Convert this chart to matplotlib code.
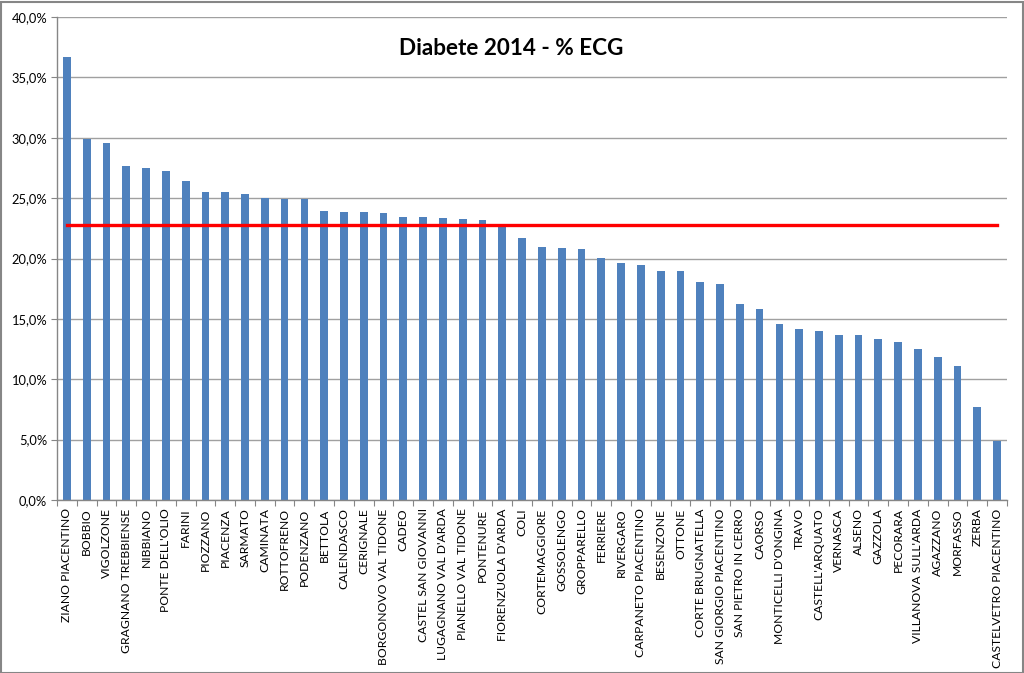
import matplotlib
matplotlib.use("Agg")
import matplotlib.pyplot as plt
from matplotlib.ticker import FuncFormatter, FixedLocator
from matplotlib.patches import Rectangle

comuni = ["ZIANO PIACENTINO", "BOBBIO", "VIGOLZONE", "GRAGNANO TREBBIENSE", "NIBBIANO",
          "PONTE DELL'OLIO", "FARINI", "PIOZZANO", "PIACENZA", "SARMATO", "CAMINATA",
          "ROTTOFRENO", "PODENZANO", "BETTOLA", "CALENDASCO", "CERIGNALE",
          "BORGONOVO VAL TIDONE", "CADEO", "CASTEL SAN GIOVANNI", "LUGAGNANO VAL D'ARDA",
          "PIANELLO VAL TIDONE", "PONTENURE", "FIORENZUOLA D'ARDA", "COLI", "CORTEMAGGIORE",
          "GOSSOLENGO", "GROPPARELLO", "FERRIERE", "RIVERGARO", "CARPANETO PIACENTINO",
          "BESENZONE", "OTTONE", "CORTE BRUGNATELLA", "SAN GIORGIO PIACENTINO",
          "SAN PIETRO IN CERRO", "CAORSO", "MONTICELLI D'ONGINA", "TRAVO", "CASTELL'ARQUATO",
          "VERNASCA", "ALSENO", "GAZZOLA", "PECORARA", "VILLANOVA SULL'ARDA", "AGAZZANO",
          "MORFASSO", "ZERBA", "CASTELVETRO PIACENTINO"]

valori = [36.66, 29.90, 29.57, 27.69, 27.47, 27.25, 26.42, 25.48, 25.48, 25.34, 25.04,
          24.96, 24.96, 23.96, 23.85, 23.85, 23.74, 23.41, 23.41, 23.35, 23.24, 23.19,
          22.80, 21.67, 20.95, 20.90, 20.79, 20.04, 19.63, 19.46, 18.96, 18.96, 18.03,
          17.86, 16.20, 15.85, 14.58, 14.13, 14.02, 13.69, 13.69, 13.33, 13.06, 12.50,
          11.84, 11.12, 7.67, 4.89]

media = 22.77
titolo = "Diabete 2014 - % ECG"
y_ticks = [0, 5, 10, 15, 20, 25, 30, 35, 40]

plt.rcParams['font.family'] = ['Lato', 'DejaVu Sans']

fig = plt.figure(figsize=(10.24, 6.73), dpi=100)
ax = fig.add_axes([57/1024, (673-500)/673, (1007-57)/1024, (500-17)/673])

x = list(range(len(comuni)))
ax.bar(x, valori, width=0.39, color='#4F81BD', zorder=3)
ax.plot(x, [media]*len(x), color='#FF0000', linewidth=2.4, zorder=4)

ax.set_xlim(-0.5, len(comuni)-0.5)
ax.set_ylim(0, 40)
ax.yaxis.set_major_locator(FixedLocator(y_ticks))
ax.yaxis.set_major_formatter(FuncFormatter(lambda v, p: f"{v:.1f}%".replace('.', ',')))
ax.grid(axis='y', color='#A0A0A0', linewidth=1.0, zorder=0)
ax.set_xticks(x)
ax.set_xticklabels(comuni, rotation=90, fontsize=8.7, color='#000000')
ax.tick_params(axis='x', length=0, pad=6)
ax.set_xticks([i - 0.5 for i in range(len(comuni)+1)], minor=True)
ax.tick_params(axis='x', which='minor', length=4, color='#868686', width=0.8)
ax.tick_params(axis='y', labelsize=9.3, length=4, color='#868686', colors='#000000', pad=3)
for s in ['top', 'right']:
    ax.spines[s].set_visible(False)
for s in ['left', 'bottom']:
    ax.spines[s].set_color('#868686')
    ax.spines[s].set_linewidth(1.0)
    ax.spines[s].set_zorder(5)

ax.text(0.478, 0.935, titolo, transform=ax.transAxes, ha='center', va='center',
        fontsize=16.2, fontweight='bold', color='#000000', zorder=6)

fig.patches.append(Rectangle((0.5/1024, 0.5/673), 1 - 2/1024, 1 - 2/673, transform=fig.transFigure,
                             fill=False, edgecolor='#868686', linewidth=1.5))

fig.savefig("out.png", dpi=100)
